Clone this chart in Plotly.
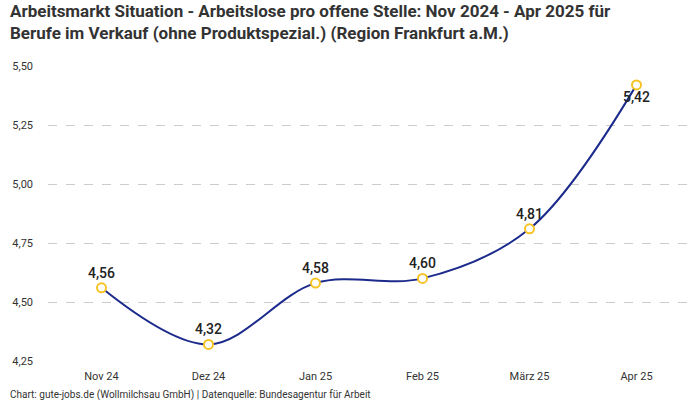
import plotly.graph_objects as go

months = ["Nov 24", "Dez 24", "Jan 25", "Feb 25", "März 25", "Apr 25"]
values = [4.56, 4.32, 4.58, 4.60, 4.81, 5.42]
label_pos = ["top center", "top center", "top center", "top center", "top center", "bottom center"]
y_ticks = [4.25, 4.50, 4.75, 5.00, 5.25, 5.50]

fig = go.Figure()
fig.add_trace(go.Scatter(
    x=months, y=values,
    mode="lines+markers+text",
    line=dict(color="#1c2a8c", width=2, shape="spline", smoothing=1.0),
    marker=dict(size=9, color="white", line=dict(color="#f7c325", width=2)),
    text=[f"{v:.2f}".replace(".", ",") for v in values],
    textposition=label_pos,
    textfont=dict(family="Roboto", size=14, color="#222222", weight=500),
    cliponaxis=False,
    hoverinfo="skip",
))

fig.update_layout(
    width=700, height=400,
    margin=dict(l=48, r=10, t=66, b=39),
    paper_bgcolor="white", plot_bgcolor="white",
    separators=",.",
    showlegend=False,
    font=dict(family="Roboto", color="#333333"),
    xaxis=dict(
        type="category", range=[-0.5, 5.5],
        showgrid=False, zeroline=False, showline=False,
        ticks="", tickfont=dict(size=11, color="#333333"),
        ticklabelstandoff=7,
    ),
    yaxis=dict(
        range=[4.25, 5.5], tickvals=y_ticks, tickformat=".2f",
        showgrid=True, gridcolor="#cccccc", griddash="dash", gridwidth=1,
        zeroline=False, showline=False, ticks="",
        tickfont=dict(size=11, color="#333333"),
        ticklabelstandoff=14,
    ),
)

fig.add_annotation(
    text="<b>Arbeitsmarkt Situation - Arbeitslose pro offene Stelle: Nov 2024 - Apr 2025 für<br>Berufe im Verkauf (ohne Produktspezial.) (Region Frankfurt a.M.)</b>",
    xref="paper", yref="paper", x=-0.0625, y=1, yshift=67, xanchor="left", yanchor="top",
    align="left", showarrow=False,
    font=dict(family="Roboto", size=17, color="#333333"),
)

fig.add_annotation(
    text="Chart: gute-jobs.de (Wollmilchsau GmbH) | Datenquelle: Bundesagentur für Arbeit",
    xref="paper", yref="paper", x=-0.0625, y=0, yshift=-26, xanchor="left", yanchor="top",
    showarrow=False, font=dict(family="Roboto", size=10, color="#333333"),
)

fig.write_html("out.html", config={"displayModeBar": False},
               post_script="document.body.style.margin='0';")
